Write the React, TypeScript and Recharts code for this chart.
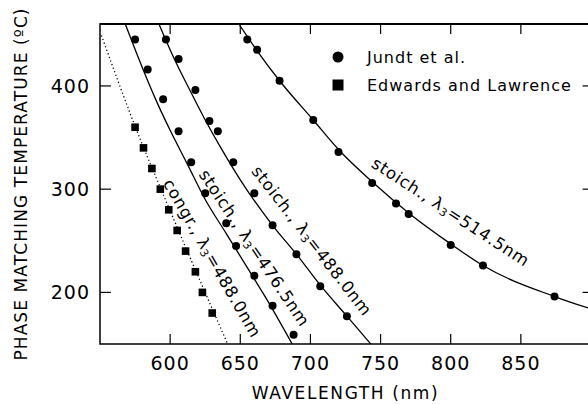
import {
  ComposedChart,
  Line,
  Scatter,
  XAxis,
  YAxis,
  Legend,
  ReferenceDot,
  ReferenceArea,
  ReferenceLine,
} from "recharts";

const FONT = '"DejaVu Sans", Verdana, sans-serif';

// wavelength (nm), temperature (°C) — measured points
const JUNDT_476 = [
  [575, 445], [584, 416], [595, 387], [606, 356], [615, 326], [625, 296],
  [640, 267], [647, 245], [660, 216], [673, 187], [688, 159],
];
const JUNDT_488 = [
  [597, 445], [606, 426], [618, 396], [628, 366], [634, 356], [645, 326],
  [660, 296], [673, 265], [690, 237], [707, 206], [726, 177],
];
const JUNDT_514 = [
  [655, 445], [662, 435], [678, 405], [702, 367], [720, 336], [744, 306],
  [761, 286], [770, 276], [800, 246], [823, 226], [874, 196],
];
const EDWARDS_CONGR = [
  [575, 360], [581, 340], [587, 320], [593, 300], [599, 280],
  [605, 260], [611, 240], [618, 220], [623, 200], [630, 180],
];

// calculated tuning curves
const FIT_476 = [
  [568, 460], [581, 415], [590, 386], [600, 357], [612, 325], [625, 290],
  [640, 257], [655, 224], [669, 193], [687, 150],
];
const FIT_488 = [
  [592, 460], [603, 426], [614, 396], [625, 367], [637, 338], [650, 309],
  [673, 265], [690, 237], [707, 207], [726, 177], [743, 150],
];
const FIT_514 = [
  [649, 460], [662, 434], [678, 405], [702, 367], [721, 337], [745, 306],
  [770, 277], [800, 247], [823, 226], [874, 196], [900, 184],
];
const FIT_CONGR = [[551, 449], [575, 361], [600, 279], [623, 206], [641, 150]];

const X_DOMAIN = [550, 900];
const Y_DOMAIN = [150, 460];
const X_TICKS = [600, 650, 700, 750, 800, 850];
const Y_TICKS = [200, 300, 400];

const CURVE_LABELS = [
  { x: 630, y: 233, angle: 60, name: "congr.,", lambda: "488.0nm" },
  { x: 660, y: 243, angle: 56, name: "stoich.,", lambda: "476.5nm" },
  { x: 701, y: 250, angle: 52, name: "stoich.,", lambda: "488.0nm" },
  { x: 800, y: 278, angle: 33, name: "stoich.,", lambda: "514.5nm" },
];

const LEGEND_ITEMS = [
  { label: "Jundt et al.", shape: "circle" },
  { label: "Edwards and Lawrence", shape: "square" },
];

// inward tick lengths, in data units (~10px)
const X_TICK_LEN = 9.7;
const Y_TICK_LEN_LEFT = 7.8;
const Y_TICK_LEN_RIGHT = 6;

const toPoints = (arr: number[][]) => arr.map(([x, y]) => ({ x, y }));

function Circle(props: any) {
  return <circle cx={props.cx} cy={props.cy} r={4} fill="#000" />;
}

function Square(props: any) {
  return (
    <rect x={props.cx - 3.8} y={props.cy - 3.8} width={7.6} height={7.6} fill="#000" />
  );
}

function XTick(props: any) {
  return (
    <text
      x={props.x}
      y={props.y}
      textAnchor="middle"
      fontFamily={FONT}
      fontSize={19}
      style={{ letterSpacing: 1 }}
      fill="#000"
    >
      {props.payload.value}
    </text>
  );
}

function YTick(props: any) {
  return (
    <text
      x={props.x}
      y={props.y}
      dy="0.36em"
      textAnchor="end"
      fontFamily={FONT}
      fontSize={19}
      style={{ letterSpacing: 1 }}
      fill="#000"
    >
      {props.payload.value}
    </text>
  );
}

function LegendContent() {
  return (
    <div style={{ fontFamily: FONT, fontSize: 16, letterSpacing: 1, color: "#000", whiteSpace: "nowrap" }}>
      {LEGEND_ITEMS.map((item) => (
        <div key={item.label} style={{ display: "flex", alignItems: "center", height: 28 }}>
          <svg width={12} height={12}>
            {item.shape === "circle" ? (
              <circle cx={6} cy={6} r={5.5} fill="#000" />
            ) : (
              <rect x={0.5} y={0.5} width={11} height={11} fill="#000" />
            )}
          </svg>
          <span style={{ marginLeft: 23 }}>{item.label}</span>
        </div>
      ))}
    </div>
  );
}

function curveLabel(name: string, lambda: string, angle: number) {
  return (props: any) => {
    const vb = props.viewBox;
    const x = vb.x + (vb.width || 0) / 2;
    const y = vb.y + (vb.height || 0) / 2;
    return (
      <text
        x={x}
        y={y}
        transform={`rotate(${angle} ${x} ${y})`}
        textAnchor="middle"
        dominantBaseline="central"
        fontFamily={FONT}
        fontSize={16.5}
        style={{ letterSpacing: 0.8 }}
        fill="#000"
      >
        {name} λ
        <tspan dy={4} fontSize={11}>3</tspan>
        <tspan dy={-4}>={lambda}</tspan>
      </text>
    );
  };
}

function XTitle(props: any) {
  const vb = props.viewBox;
  return (
    <text
      x={vb.x + vb.width / 2}
      y={vb.y + 55}
      textAnchor="middle"
      fontFamily={FONT}
      fontSize={17}
      style={{ letterSpacing: 1.6 }}
      fill="#000"
    >
      WAVELENGTH (nm)
    </text>
  );
}

function YTitle(props: any) {
  const vb = props.viewBox;
  const x = vb.x + 26.5;
  const y = vb.y + vb.height / 2;
  return (
    <text
      x={x}
      y={y}
      transform={`rotate(-90 ${x} ${y})`}
      textAnchor="middle"
      fontFamily={FONT}
      fontSize={17}
      style={{ letterSpacing: 1.1 }}
      fill="#000"
    >
      PHASE MATCHING TEMPERATURE (ºC)
    </text>
  );
}

const tickSeg = { stroke: "#000", strokeWidth: 1.2, ifOverflow: "visible" as const };

export default function App() {
  const [x0, x1] = X_DOMAIN;
  const [y0, y1] = Y_DOMAIN;
  return (
    <div
      style={{
        position: "absolute",
        left: 0,
        top: 0,
        width: 588,
        height: 404,
        overflow: "hidden",
        background: "#fff",
      }}
    >
      <ComposedChart
        width={598}
        height={404}
        margin={{ top: 24, right: 7, left: 0, bottom: 0 }}
      >
        <XAxis
          dataKey="x"
          type="number"
          domain={X_DOMAIN}
          ticks={X_TICKS}
          interval={0}
          allowDataOverflow
          height={60}
          tickSize={0}
          tickMargin={26}
          tick={XTick}
          axisLine={false}
          tickLine={false}
          label={{ content: XTitle }}
        />
        <YAxis
          dataKey="y"
          type="number"
          domain={Y_DOMAIN}
          ticks={Y_TICKS}
          interval={0}
          allowDataOverflow
          width={100}
          tickSize={0}
          tickMargin={10}
          tick={YTick}
          axisLine={false}
          tickLine={false}
          label={{ content: YTitle }}
        />

        {/* plot frame */}
        <ReferenceArea x1={x0} x2={x1} y1={y0} y2={y1} fill="none" fillOpacity={0} stroke="#000" strokeWidth={1.5} strokeOpacity={1} />
        <ReferenceLine y={y1} stroke="#000" strokeWidth={2.2} />

        {/* inward tick marks on all four sides */}
        {X_TICKS.map((t) => (
          <ReferenceLine key={`b${t}`} segment={[{ x: t, y: y0 }, { x: t, y: y0 + X_TICK_LEN }]} {...tickSeg} />
        ))}
        {X_TICKS.map((t) => (
          <ReferenceLine key={`t${t}`} segment={[{ x: t, y: y1 }, { x: t, y: y1 - X_TICK_LEN }]} {...tickSeg} />
        ))}
        {Y_TICKS.map((t) => (
          <ReferenceLine key={`l${t}`} segment={[{ x: x0, y: t }, { x: x0 + Y_TICK_LEN_LEFT, y: t }]} {...tickSeg} />
        ))}
        {Y_TICKS.map((t) => (
          <ReferenceLine key={`r${t}`} segment={[{ x: x1, y: t }, { x: x1 - Y_TICK_LEN_RIGHT, y: t }]} {...tickSeg} />
        ))}

        <Legend
          layout="vertical"
          align="center"
          verticalAlign="middle"
          content={LegendContent}
          wrapperStyle={{ top: 43, left: 332, width: "auto" }}
        />
        <Line data={toPoints(FIT_CONGR)} dataKey="y" type="monotone" stroke="#000" strokeWidth={1.3} strokeDasharray="1.2 2.6" dot={false} activeDot={false} isAnimationActive={false} />
        <Line data={toPoints(FIT_476)} dataKey="y" type="monotone" stroke="#000" strokeWidth={1.3} dot={false} activeDot={false} isAnimationActive={false} />
        <Line data={toPoints(FIT_488)} dataKey="y" type="monotone" stroke="#000" strokeWidth={1.3} dot={false} activeDot={false} isAnimationActive={false} />
        <Line data={toPoints(FIT_514)} dataKey="y" type="monotone" stroke="#000" strokeWidth={1.3} dot={false} activeDot={false} isAnimationActive={false} />
        <Scatter data={toPoints(JUNDT_476)} shape={Circle} isAnimationActive={false} />
        <Scatter data={toPoints(JUNDT_488)} shape={Circle} isAnimationActive={false} />
        <Scatter data={toPoints(JUNDT_514)} shape={Circle} isAnimationActive={false} />
        <Scatter data={toPoints(EDWARDS_CONGR)} shape={Square} isAnimationActive={false} />
        {CURVE_LABELS.map((c) => (
          <ReferenceDot
            key={c.name + c.lambda}
            x={c.x}
            y={c.y}
            r={0}
            fill="none"
            stroke="none"
            label={{ content: curveLabel(c.name, c.lambda, c.angle) }}
          />
        ))}
      </ComposedChart>
    </div>
  );
}
